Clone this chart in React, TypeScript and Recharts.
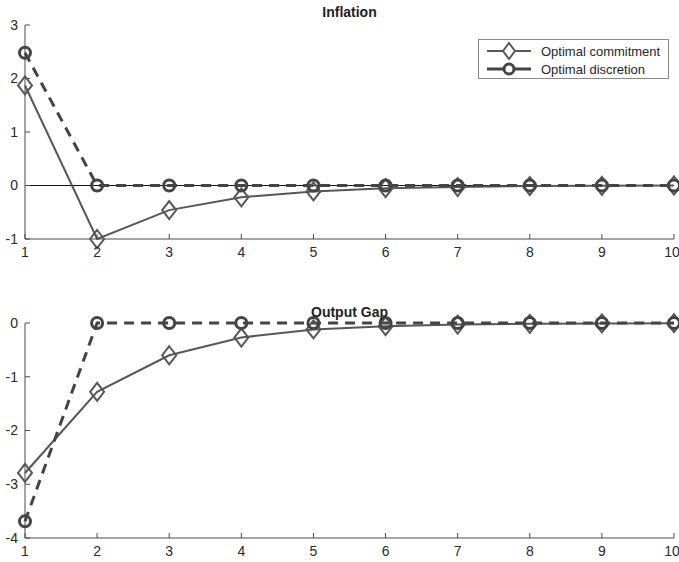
import React from 'react';
import { LineChart, Line, XAxis, YAxis, ReferenceLine } from 'recharts';

const periods = [1, 2, 3, 4, 5, 6, 7, 8, 9, 10];
const inflationCommitment = [1.87, -1.0, -0.46, -0.22, -0.11, -0.05, -0.03, -0.01, -0.005, 0];
const inflationDiscretion = [2.48, 0, 0, 0, 0, 0, 0, 0, 0, 0];
const gapCommitment = [-2.79, -1.28, -0.6, -0.27, -0.12, -0.06, -0.03, -0.015, -0.007, -0.003];
const gapDiscretion = [-3.69, 0, 0, 0, 0, 0, 0, 0, 0, 0];
const xTicks = [1, 2, 3, 4, 5, 6, 7, 8, 9, 10];
const inflationTicks = [-1, 0, 1, 2, 3];
const gapTicks = [-4, -3, -2, -1, 0];
const seriesNames = ['Optimal commitment', 'Optimal discretion'];

const FONT = '"Liberation Sans", Arial, Helvetica, sans-serif';
const LINE = '#575757';
const DARK = '#444444';
const AXIS = '#4a4a4a';

const inflationData = periods.map((p, i) => ({ x: p, commit: inflationCommitment[i], disc: inflationDiscretion[i] }));
const gapData = periods.map((p, i) => ({ x: p, commit: gapCommitment[i], disc: gapDiscretion[i] }));

const Diamond = (props: any) => {
    const { cx, cy, index } = props;
    if (cx == null || cy == null) return <g key={index} />;
    return (
        <polygon
            key={index}
            points={`${cx},${cy - 9} ${cx + 7},${cy} ${cx},${cy + 9} ${cx - 7},${cy}`}
            fill="none"
            stroke={LINE}
            strokeWidth={2}
        />
    );
};

const Ring = (props: any) => {
    const { cx, cy, index } = props;
    if (cx == null || cy == null) return <g key={index} />;
    return <circle key={index} cx={cx} cy={cy} r={5.5} fill="none" stroke={DARK} strokeWidth={3} />;
};

const tickStyle = { fontSize: 14, fill: '#2a2a2a', fontFamily: FONT };

// legend drawn outside the chart so it does not eat plot space
const LegendBox = () => (
    <div
        style={{
            position: 'absolute',
            left: 478,
            top: 39,
            border: '1px solid #8a8a8a',
            background: '#fff',
            width: 189,
            height: 38,
            fontFamily: FONT,
            fontSize: 13,
            color: '#262626',
        }}
    >
        {seriesNames.map((name, i) => (
            <div key={name} style={{ display: 'flex', alignItems: 'center', height: 18, marginTop: i === 0 ? 2 : 0 }}>
                <svg width={56} height={18} style={{ marginLeft: 4 }}>
                    {i === 0 ? (
                        <>
                            <line x1={4} y1={9} x2={48} y2={9} stroke={LINE} strokeWidth={2} />
                            <polygon points="26,1 32,9 26,17 20,9" fill="#fff" stroke={LINE} strokeWidth={2} />
                        </>
                    ) : (
                        <>
                            <line x1={4} y1={9} x2={48} y2={9} stroke={DARK} strokeWidth={3} />
                            <circle cx={26} cy={9} r={5} fill="#fff" stroke={DARK} strokeWidth={3} />
                        </>
                    )}
                </svg>
                <span style={{ marginLeft: 2 }}>{name}</span>
            </div>
        ))}
    </div>
);

const Panel: React.FC<{
    data: any[];
    ticks: number[];
    domain: [number, number];
    height: number;
    top: number;
    xAxisHeight: number;
    zeroLine?: boolean;
}> = ({ data, ticks, domain, height, top, xAxisHeight, zeroLine }) => (
    <LineChart width={679} height={height} data={data} margin={{ top, right: 5, left: 0, bottom: 0 }}>
        <XAxis
            dataKey="x"
            type="number"
            domain={[1, 10]}
            ticks={xTicks}
            height={xAxisHeight}
            stroke={AXIS}
            tickSize={-5}
            tickMargin={13}
            tick={tickStyle}
        />
        <XAxis xAxisId="top" orientation="top" dataKey="x" type="number" domain={[1, 10]} ticks={xTicks} height={0} stroke={AXIS} tickSize={-5} tick={false} />
        <YAxis
            type="number"
            domain={domain}
            ticks={ticks}
            width={25}
            stroke={AXIS}
            tickSize={-5}
            tickMargin={12}
            tick={tickStyle}
        />
        <YAxis yAxisId="r" orientation="right" type="number" domain={domain} ticks={ticks} width={0} stroke={AXIS} tickSize={-5} tick={false} />
        {zeroLine && <ReferenceLine y={0} stroke="#111" strokeWidth={1} />}
        <Line
            dataKey="commit"
            name={seriesNames[0]}
            stroke={LINE}
            strokeWidth={2}
            dot={Diamond}
            isAnimationActive={false}
        />
        <Line
            dataKey="disc"
            name={seriesNames[1]}
            stroke={DARK}
            strokeWidth={3}
            strokeDasharray="10 7"
            dot={Ring}
            isAnimationActive={false}
        />
    </LineChart>
);

const titleStyle: React.CSSProperties = {
    position: 'absolute',
    left: 25,
    width: 649,
    textAlign: 'center',
    fontFamily: FONT,
    fontWeight: 'bold',
    fontSize: 14,
    color: '#222',
};

export default function App() {
    return (
        <div style={{ position: 'fixed', left: 0, top: 0, width: 679, height: 562, background: '#fff', overflow: 'hidden' }}>
            <div style={{ position: 'absolute', left: 0, top: 0 }}>
                <Panel data={inflationData} ticks={inflationTicks} domain={[-1, 3]} height={269} top={25} xAxisHeight={30} zeroLine />
            </div>
            <div style={{ position: 'absolute', left: 0, top: 290 }}>
                <Panel data={gapData} ticks={gapTicks} domain={[-4, 0]} height={272} top={33} xAxisHeight={24} />
            </div>
            <LegendBox />
            <div style={{ ...titleStyle, top: 4 }}>Inflation</div>
            <div style={{ ...titleStyle, top: 304 }}>Output Gap</div>
        </div>
    );
}
